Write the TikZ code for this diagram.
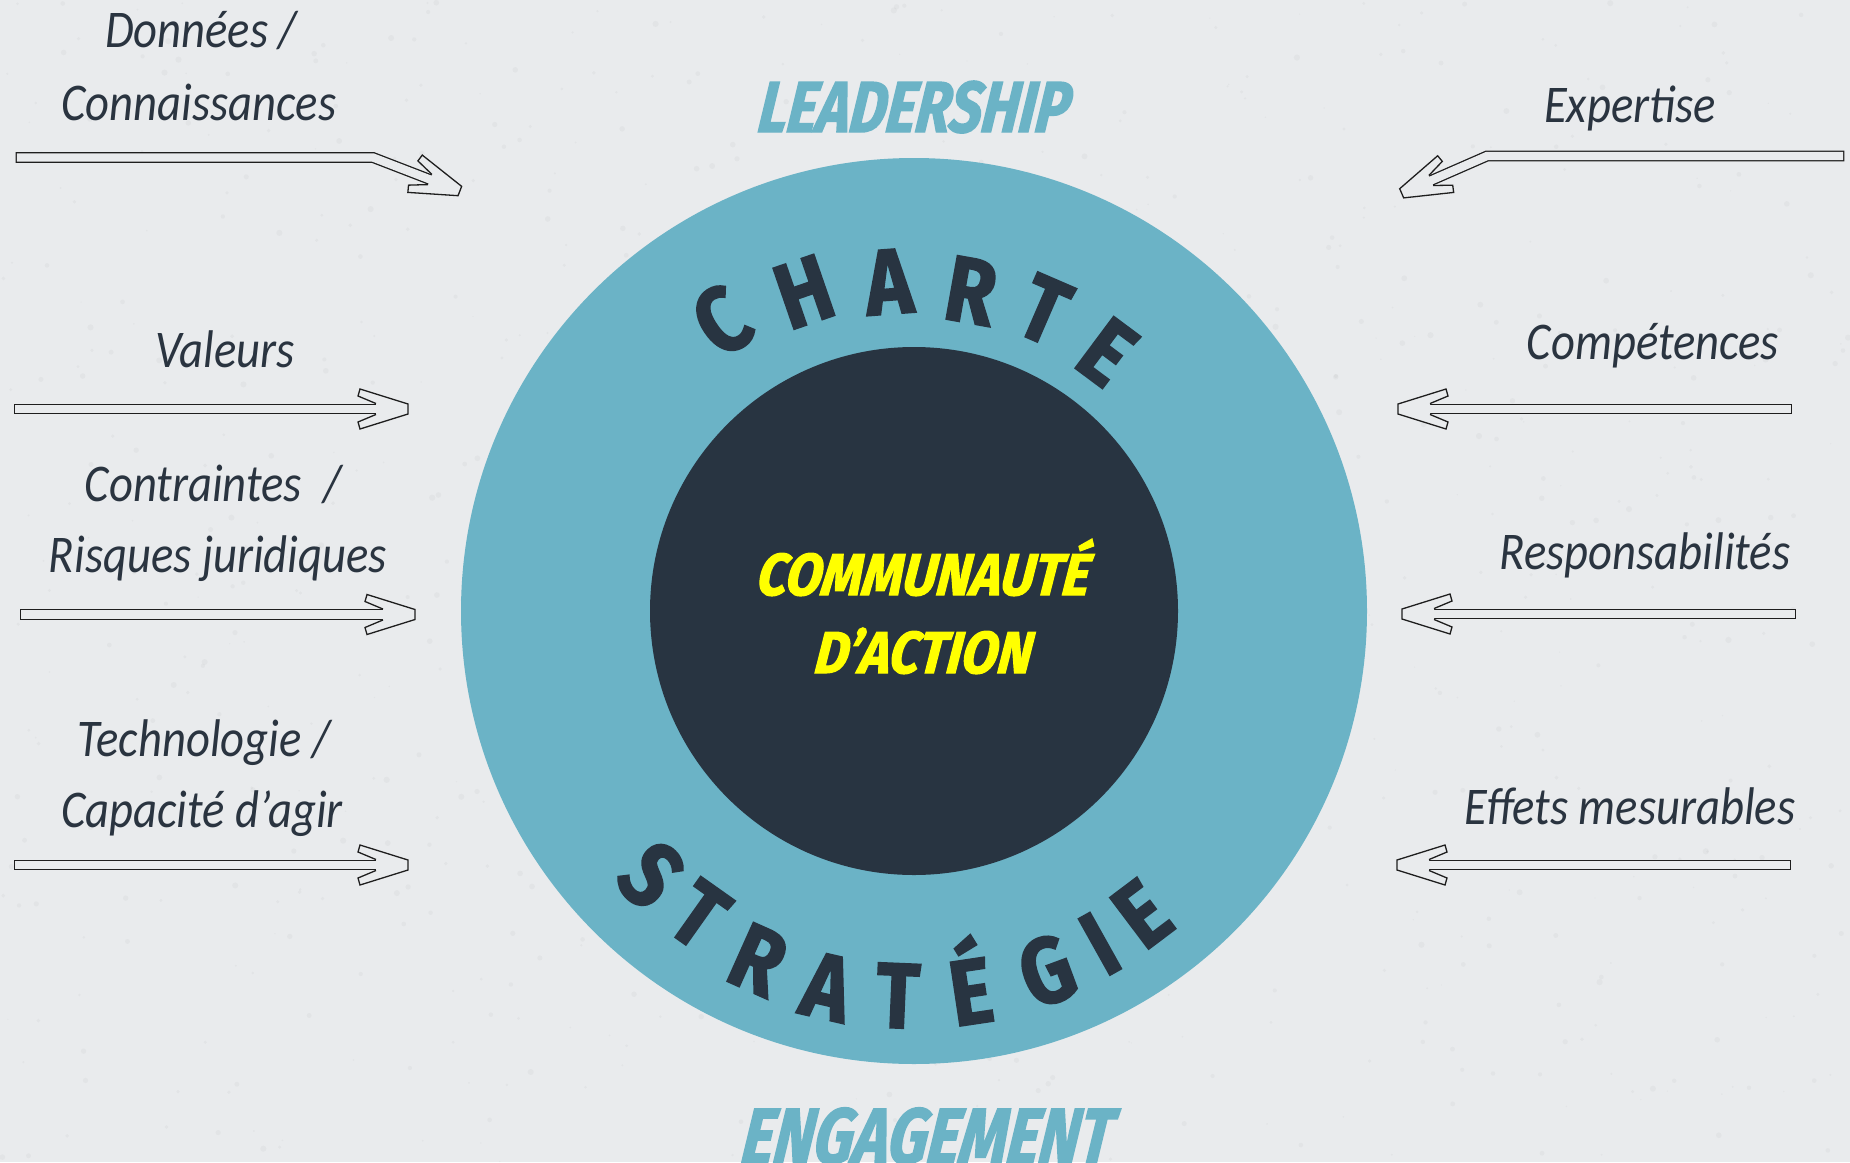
\documentclass[tikz,border=0pt]{standalone}
\usepackage{fontspec}
\newfontfamily\sidefont{Carlito}[FakeStretch=0.88]
\newfontfamily\bannerfont{Fira Sans}[FakeStretch=0.79, BoldItalicFeatures={FakeBold=2, FakeSlant=0.13}]
\newfontfamily\corefont{Fira Sans}[FakeStretch=0.89, BoldItalicFeatures={FakeBold=2, FakeSlant=0.13}]
\newfontfamily\archfont{Fira Sans}[FakeStretch=0.86, BoldFeatures={FakeBold=1.8}]
\definecolor{bgcol}{HTML}{E9EBED}
\definecolor{tealc}{HTML}{6BB3C6}
\definecolor{darkc}{HTML}{283441}
\definecolor{txtc}{HTML}{2A3440}
\definecolor{yel}{HTML}{FFFF00}
\definecolor{linec}{HTML}{1E1E1E}
\tikzset{
  sidelabel/.style={font={\sidefont\itshape\fontsize{53}{60}\selectfont}, text=txtc, anchor=base, inner sep=0pt},
  banner/.style={font={\bannerfont\bfseries\itshape\fontsize{72}{80}\selectfont}, text=tealc, anchor=base, inner sep=0pt},
  coretext/.style={font={\corefont\bfseries\itshape\fontsize{59}{64}\selectfont}, text=yel, anchor=base, inner sep=0pt},
  archletter/.style={font={\archfont\bfseries\fontsize{93}{93}\selectfont}, text=darkc, inner sep=0pt, text height=64pt, text depth=0pt, anchor=center},
  shaft/.style={draw=linec, line width=1.3pt, double=bgcol, double distance=8.3pt, line cap=rect},
  pics/chevhead/.style={code={
    \fill[bgcol] (0,-5.45)--(-18,-13)--(-16,-20)--(32,-5)--(32,5)--(-16,20)--(-18,13)--(0,5.45)--cycle;
    \draw[linec, line width=1.3pt] (0,-5.45)--(-18,-13)--(-16,-20)--(32,-5)--(32,5)--(-16,20)--(-18,13)--(0,5.45);
  }}
}
\begin{document}
\begin{tikzpicture}[x=1pt,y=-1pt]
\useasboundingbox (0,0) rectangle (1850,1162);
\clip (0,0) rectangle (1850,1162);
\fill[bgcol] (0,0) rectangle (1850,1162);
% faint paper texture
\pgfmathsetseed{11}
\foreach \i in {1,...,900}{
  \fill[black!60, opacity=0.05] (rnd*1850, rnd*1162) circle ({0.6+rnd*2.5});
}

% circles
\node[circle, fill=tealc, minimum size=906pt, inner sep=0pt] (ring) at (914,611) {};
\node[circle, fill=darkc, minimum size=528pt, inner sep=0pt] (core) at (914,611) {};

% banners
\node[banner] (lead) at (912,132) {LEADERSHIP};
\node[banner, font={\bannerfont\bfseries\itshape\fontsize{78}{84}\selectfont}] (eng) at (925,1163) {ENGAGEMENT};

% core text
\node[coretext] (com1) at (922,595) {COMMUNAUTÉ};
\node[coretext] (com2) at (922,673) {D’ACTION};

% CHARTE
\node[archletter, rotate=33.5] (c1) at (722,321) {C};
\node[archletter, rotate=19] (c2) at (804,292) {H};
\node[archletter, rotate=4.3] (c3) at (889,282) {A};
\node[archletter, rotate=-10.1] (c4) at (971,291) {R};
\node[archletter, rotate=-23.4] (c5) at (1044,310) {T};
\node[archletter, rotate=-36.7] (c6) at (1107,352) {E};

% STRATEGIE
\node[archletter, rotate=-44.9] (s1) at (651,875) {S};
\node[archletter, rotate=-35.3] (s2) at (699,915) {T};
\node[archletter, rotate=-24.1] (s3) at (758,960) {R};
\node[archletter, rotate=-13] (s4) at (827,987) {A};
\node[archletter, rotate=-2.4] (s5) at (898,996) {T};
\node[archletter, rotate=8.5] (s6) at (971,992) {É};
\node[archletter, rotate=20.3] (s7) at (1047,971) {G};
\node[archletter, rotate=29.2] (s8) at (1100,944) {I};
\node[archletter, rotate=37] (s9) at (1142,914) {E};

% left labels
\node[sidelabel] (l1a) at (201,47) {Données /};
\node[sidelabel] (l1b) at (199,120) {Connaissances};
\node[sidelabel] (l2) at (225,367) {Valeurs};
\node[sidelabel] (l3a) at (213,501) {Contraintes\ \ /};
\node[sidelabel] (l3b) at (218,572) {Risques juridiques};
\node[sidelabel] (l4a) at (204,756) {Technologie /};
\node[sidelabel] (l4b) at (202,827) {Capacité d’agir};

% right labels
\node[sidelabel] (r1) at (1630,122) {Expertise};
\node[sidelabel] (r2) at (1653,359) {Compétences};
\node[sidelabel] (r3) at (1645,569) {Responsabilités};
\node[sidelabel] (r4) at (1630,824) {Effets mesurables};

% arrow coordinates
\coordinate (la1s) at (21,157.5);
\coordinate (la1b) at (373,157.5);
\coordinate (la1h) at (430,179.5);
\coordinate (la2s) at (19,409);
\coordinate (la2h) at (376,409);
\coordinate (la3s) at (25,614.5);
\coordinate (la3h) at (383,614.5);
\coordinate (la4s) at (19,865);
\coordinate (la4h) at (376,865);
\coordinate (ra1s) at (1839,156);
\coordinate (ra1b) at (1487,156);
\coordinate (ra1h) at (1431,180.5);
\coordinate (ra2s) at (1787,409);
\coordinate (ra2h) at (1430,409);
\coordinate (ra3s) at (1791,614);
\coordinate (ra3h) at (1434,614);
\coordinate (ra4s) at (1786,865);
\coordinate (ra4h) at (1429,865);

% left arrows
\draw[shaft] (la1s) -- (la1b) -- (la1h);
\pic[rotate=-21.1] at (la1h) {chevhead};
\draw[shaft] (la2s) -- (la2h);
\pic at (la2h) {chevhead};
\draw[shaft] (la3s) -- (la3h);
\pic at (la3h) {chevhead};
\draw[shaft] (la4s) -- (la4h);
\pic at (la4h) {chevhead};

% right arrows
\draw[shaft] (ra1s) -- (ra1b) -- (ra1h);
\pic[rotate=203.6] at (ra1h) {chevhead};
\draw[shaft] (ra2s) -- (ra2h);
\pic[rotate=180] at (ra2h) {chevhead};
\draw[shaft] (ra3s) -- (ra3h);
\pic[rotate=180] at (ra3h) {chevhead};
\draw[shaft] (ra4s) -- (ra4h);
\pic[rotate=180] at (ra4h) {chevhead};
\end{tikzpicture}
\end{document}
